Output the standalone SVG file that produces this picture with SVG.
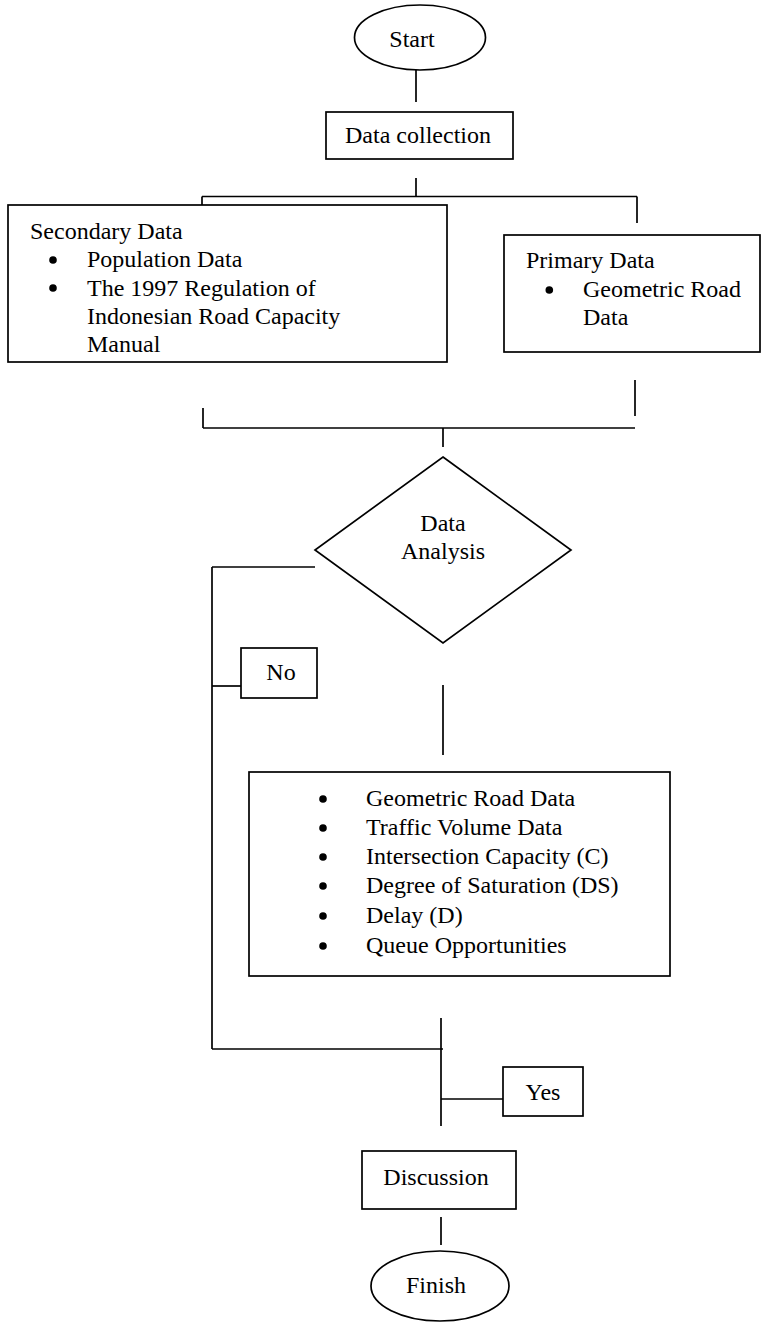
<svg xmlns="http://www.w3.org/2000/svg" width="761" height="1322" viewBox="0 0 761 1322">
<style>
.s{fill:#fff;stroke:#000;stroke-width:1.7}
.c line{stroke:#000;stroke-width:1.7}
text{font-family:"Liberation Serif","Times New Roman",serif;font-size:24px;fill:#000}
.m{text-anchor:middle}
.b{fill:#000}
</style>
<rect width="761" height="1322" fill="#fff"/>
<g id="connectors" class="c">
<line x1="416" y1="70" x2="416" y2="102"/>
<line x1="416" y1="178" x2="416" y2="197"/>
<line x1="202" y1="196.5" x2="637" y2="196.5"/>
<line x1="202" y1="196.5" x2="202" y2="205"/>
<line x1="637" y1="196.5" x2="637" y2="223"/>
<line x1="203" y1="408" x2="203" y2="428"/>
<line x1="635" y1="380" x2="635" y2="416"/>
<line x1="203" y1="428" x2="635" y2="428"/>
<line x1="443" y1="428" x2="443" y2="447"/>
<line x1="212" y1="567" x2="315" y2="567"/>
<line x1="212" y1="567" x2="212" y2="1049"/>
<line x1="212" y1="686" x2="241" y2="686"/>
<line x1="443" y1="685" x2="443" y2="755"/>
<line x1="441" y1="1018" x2="441" y2="1126"/>
<line x1="212" y1="1049" x2="443" y2="1049"/>
<line x1="441" y1="1099" x2="503" y2="1099"/>
<line x1="441" y1="1217" x2="441" y2="1245"/>
</g>
<g id="start">
<ellipse class="s" cx="420" cy="37.5" rx="65.5" ry="32.5"/>
<text class="m" x="412" y="47">Start</text>
</g>
<g id="data-collection">
<rect class="s" x="326" y="112" width="187" height="47"/>
<text class="m" x="418" y="143">Data collection</text>
</g>
<g id="secondary">
<rect class="s" x="8" y="205" width="439" height="157"/>
<text x="30" y="239.3">Secondary Data</text>
<circle class="b" cx="53" cy="260" r="3.8"/>
<text x="87" y="267.4">Population Data</text>
<circle class="b" cx="53" cy="288" r="3.8"/>
<text x="87" y="295.5">The 1997 Regulation of</text>
<text x="87" y="323.6">Indonesian Road Capacity</text>
<text x="87" y="351.7">Manual</text>
</g>
<g id="primary">
<rect class="s" x="504" y="235" width="256" height="117"/>
<text x="526" y="268.3">Primary Data</text>
<circle class="b" cx="549.3" cy="290" r="3.8"/>
<text x="583" y="297.3">Geometric Road</text>
<text x="583" y="325">Data</text>
</g>
<g id="analysis">
<polygon class="s" points="443,457 571,550 443,643 315,550"/>
<text class="m" x="443" y="531">Data</text>
<text class="m" x="443" y="559.3">Analysis</text>
</g>
<g id="no">
<rect class="s" x="241" y="648" width="76" height="50"/>
<text class="m" x="281" y="680">No</text>
</g>
<g id="results">
<rect class="s" x="249" y="772" width="421" height="204"/>
<circle class="b" cx="323" cy="799" r="3.8"/>
<text x="366" y="806">Geometric Road Data</text>
<circle class="b" cx="323" cy="828" r="3.8"/>
<text x="366" y="835">Traffic Volume Data</text>
<circle class="b" cx="323" cy="857" r="3.8"/>
<text x="366" y="864">Intersection Capacity (C)</text>
<circle class="b" cx="323" cy="886" r="3.8"/>
<text x="366" y="893.3">Degree of Saturation (DS)</text>
<circle class="b" cx="323" cy="916" r="3.8"/>
<text x="366" y="922.7">Delay (D)</text>
<circle class="b" cx="323" cy="946" r="3.8"/>
<text x="366" y="953.3">Queue Opportunities</text>
</g>
<g id="yes">
<rect class="s" x="503" y="1067" width="80" height="49"/>
<text class="m" x="543" y="1100">Yes</text>
</g>
<g id="discussion">
<rect class="s" x="362" y="1151" width="154" height="58"/>
<text class="m" x="436" y="1185">Discussion</text>
</g>
<g id="finish">
<ellipse class="s" cx="440" cy="1286" rx="69" ry="35"/>
<text class="m" x="436" y="1293">Finish</text>
</g>
</svg>
